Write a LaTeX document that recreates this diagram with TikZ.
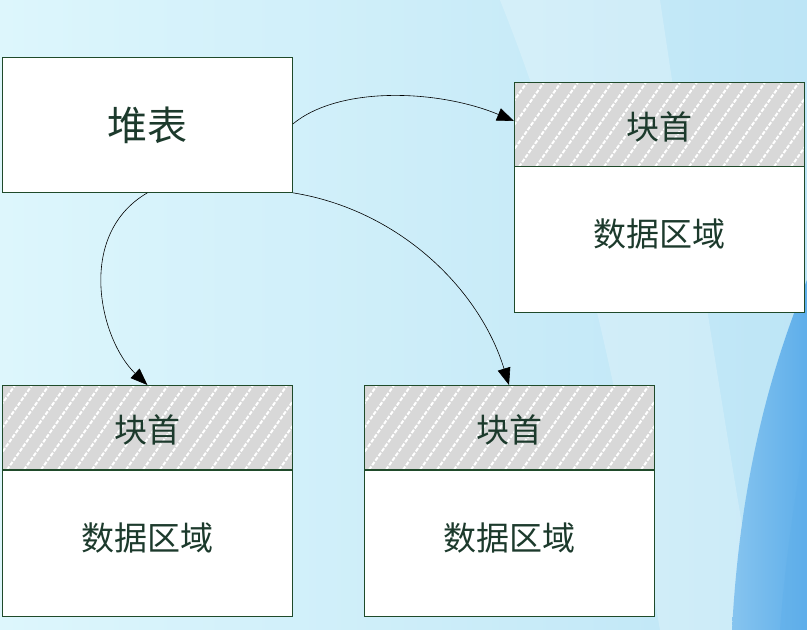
\documentclass[tikz,border=0pt]{standalone}
\usepackage{fontspec}
\newfontfamily\cjk{Noto Sans CJK SC}
\usetikzlibrary{arrows.meta}
\definecolor{bgA}{HTML}{DDF6FC}
\definecolor{bgB}{HTML}{BDE5F6}
\definecolor{bgC}{HTML}{5EAEEA}
\definecolor{bgD}{HTML}{86C4EF}
\definecolor{edge}{HTML}{1F4A2A}
\definecolor{ink}{HTML}{1C3A2C}
\definecolor{hdr}{HTML}{D8D8D8}
\tikzset{
  box/.style={draw=edge, line width=0.8pt, fill=white, inner sep=0pt, anchor=north west},
  heap/.style={box, minimum width=290pt, minimum height=135pt, font=\cjk\fontsize{40}{42}\selectfont, text=ink},
  header/.style={box, fill=hdr, minimum width=290pt, minimum height=84pt},
  data/.style={box, minimum width=290pt, minimum height=146pt},
  label/.style={font=\cjk\fontsize{33}{35}\selectfont, text=ink},
  link/.style={line width=0.6pt, -{Triangle[length=17pt,width=13pt]}},
  hatch/.style={white, line width=2pt, dash pattern=on 4pt off 1.6pt},
}
\newcommand{\hatchbox}[1]{%
  \begin{scope}
    \clip ([shift={(1pt,-1pt)}]#1.north west) rectangle ([shift={(-1pt,1pt)}]#1.south east);
    \foreach \k in {-80,-63,...,300}
      \draw[hatch] ([xshift=\k pt]#1.south west) -- ++(60pt,86pt);
  \end{scope}
  \draw[edge, line width=0.8pt] (#1.north west) rectangle (#1.south east);
  \node[label] at ([yshift=-3pt]#1.center) {块首};
}
\newcommand{\datatext}[1]{%
  \node[label] at ([yshift=5pt]#1.center) {数据区域};
}
\begin{document}
\begin{tikzpicture}[x=1pt, y=-1pt]
  % background
  \useasboundingbox (0,0) rectangle (807,630);
  \shade[left color=bgA, right color=bgB] (0,0) rectangle (807,630);
  \fill[white, opacity=0.22] (500,0) .. controls (580,200) and (620,400) .. (660,630) -- (760,630) .. controls (720,400) and (690,200) .. (660,0) -- cycle;
  \shade[left color=bgD, right color=bgC] (807,280) .. controls (770,370) and (740,480) .. (732,630) -- (807,630) -- cycle;
  \fill[bgC, opacity=0.4] (807,420) .. controls (795,500) and (785,560) .. (780,630) -- (807,630) -- cycle;

  % heap table
  \node[heap] (tbl) at (2,57) {堆表};

  % blocks
  \node[header] (h1) at (514,82) {};
  \node[data]   (d1) at (514,166) {};
  \node[header] (h2) at (2,385) {};
  \node[data]   (d2) at (2,470) {};
  \node[header] (h3) at (364,385) {};
  \node[data]   (d3) at (364,470) {};
  \hatchbox{h1}
  \hatchbox{h2}
  \hatchbox{h3}
  \datatext{d1}
  \datatext{d2}
  \datatext{d3}

  % links
  \draw[link] ([yshift=-67pt]tbl.north east) .. controls (340,85) and (440,90) .. ([yshift=-39pt]h1.north west);
  \draw[link] (tbl.south) .. controls (75,235) and (100,340) .. (h2.north);
  \draw[link] (tbl.south east) .. controls (400,210) and (480,290) .. ([xshift=145pt]h3.north west);
\end{tikzpicture}
\end{document}
